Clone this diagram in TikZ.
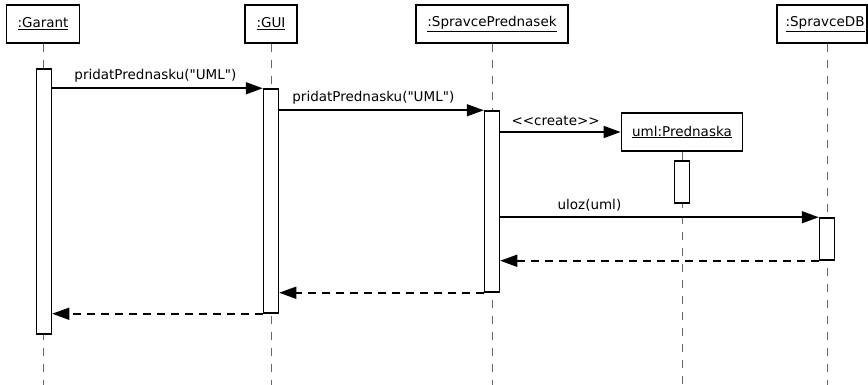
\documentclass[tikz,border=0pt]{standalone}
\usepackage{fontspec}
\setmainfont{DejaVu Sans}[Ligatures=TeXOff]
\usetikzlibrary{arrows.meta,calc,positioning}

\begin{document}
\begin{tikzpicture}[x=1pt,y=-1pt,
  font=\fontsize{13.5}{16}\selectfont,
  obj/.style={draw,line width=1.8pt,inner sep=0pt,minimum height=38pt},
  act/.style={draw,fill=white,line width=1.5pt,inner sep=0pt,minimum width=15pt},
  life/.style={draw=black!60,line width=0.9pt,dash pattern=on 8pt off 8pt},
  msg/.style={line width=1.6pt,-{Triangle[length=17pt,width=12pt]}},
  ret/.style={msg,dash pattern=on 8pt off 6pt}]
\useasboundingbox (0,0) rectangle (868,385);
% objects
\node[obj,minimum width=73pt] (garant) at (43,24) {\underline{:Garant}};
\node[obj,minimum width=52pt] (gui) at (271,24) {\underline{:GUI}};
\node[obj,minimum width=152pt] (sp) at (492,24) {\underline{:SpravcePrednasek}};
\node[obj,minimum width=90pt,text width=85pt,align=right] (db) at (822,24) {\underline{:SpravceDB}};
\node[obj,minimum width=121pt] (uml) at (682,132) {\underline{uml:Prednaska}};
% lifelines
\coordinate (garantend) at (43,385);
\coordinate (guiend) at (271,385);
\coordinate (spend) at (492,385);
\coordinate (umlend) at (682,385);
\coordinate (dbend) at (827,385);
\draw[life] (garant.south) -- (garantend);
\draw[life] (gui.south) -- (guiend);
\draw[life] (sp.south) -- (spend);
\draw[life] (uml.south) -- (umlend);
\draw[life] (db.south -| dbend) -- (dbend);
% activations
\node[act,minimum height=265pt] (a1) at (44,201.5) {};
\node[act,minimum height=224pt] (a2) at (271,201) {};
\node[act,minimum height=181pt] (a3) at (492,201.5) {};
\node[act,minimum height=42pt] (a4) at (682,182) {};
\node[act,minimum height=42pt] (a5) at (827,239) {};
% messages
\draw[msg] (a1.east |- a2.north) -- node[above=2pt,pos=.49] {pridatPrednasku("UML")} (a2.north west);
\draw[msg] (a2.east |- a3.north) -- node[above=2pt,pos=.46] {pridatPrednasku("UML")} (a3.north west);
\draw[msg] (a3.east |- uml.west) -- node[above=2pt,pos=.46] {<<create>>} (uml.west);
\draw[msg] (a3.east |- a5.north) -- node[above=2pt,pos=.28] {uloz(uml)} (a5.north west);
\draw[ret] (a5.south west) -- (a3.east |- a5.south);
\draw[ret] (a3.south west) -- (a2.east |- a3.south);
\draw[ret] (a2.south west) -- (a1.east |- a2.south);
\end{tikzpicture}
\end{document}
